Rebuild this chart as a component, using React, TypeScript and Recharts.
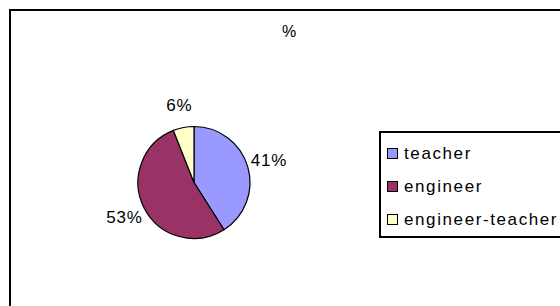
import React from "react";
import { PieChart, Pie, Cell } from "recharts";

const categories = ["teacher", "engineer", "engineer-teacher"];
const values = [41, 53, 6];
const colors = ["#9999FF", "#993366", "#FFFFCC"];
const title = "%";

const data = categories.map((name, i) => ({ name, value: values[i] }));

const FONT = "'Liberation Sans', Arial, sans-serif";
const RAD = Math.PI / 180;

const renderLabel = (props: any) => {
  const { cx, cy, midAngle, outerRadius, value } = props;
  const r = outerRadius + 22;
  const x = cx + r * Math.cos(-midAngle * RAD);
  const y = cy + r * Math.sin(-midAngle * RAD);
  return (
    <text
      x={x}
      y={y}
      textAnchor="middle"
      dominantBaseline="central"
      fill="#000"
      fontFamily={FONT}
      fontSize={17}
      letterSpacing={0.8}
    >
      {`${value}%`}
    </text>
  );
};

function LegendBox() {
  return (
    <div
      style={{
        position: "absolute",
        left: 379,
        top: 131,
        border: "2px solid #000",
        background: "#fff",
        paddingTop: 4,
        width: 260,
        height: 107,
        boxSizing: "border-box",
      }}
    >
      {categories.map((name, i) => (
        <div
          key={name}
          style={{
            height: 33,
            display: "flex",
            alignItems: "center",
            paddingLeft: 6,
            fontFamily: FONT,
            fontSize: 17,
            letterSpacing: 1.6,
            color: "#000",
            whiteSpace: "nowrap",
          }}
        >
          <span
            style={{
              display: "inline-block",
              width: 9,
              height: 9,
              border: "1.5px solid #000",
              background: colors[i],
              marginRight: 6,
              flexShrink: 0,
            }}
          />
          {name}
        </div>
      ))}
    </div>
  );
}

export default function App() {
  return (
    <div
      style={{
        position: "fixed",
        left: 0,
        top: 0,
        width: 560,
        height: 306,
        overflow: "hidden",
        background: "#fff",
      }}
    >
      <div
        style={{
          position: "absolute",
          left: 9,
          top: 9,
          width: 620,
          height: 400,
          border: "2px solid #000",
          boxSizing: "border-box",
        }}
      />
      <div
        style={{
          position: "absolute",
          left: 249,
          width: 80,
          top: 23,
          textAlign: "center",
          fontFamily: FONT,
          fontSize: 16,
          color: "#000",
        }}
      >
        {title}
      </div>
      <div style={{ position: "absolute", left: 0, top: 0 }}>
        <PieChart width={560} height={306} margin={{ top: 0, right: 0, bottom: 0, left: 0 }}>
          <Pie
            data={data}
            dataKey="value"
            nameKey="name"
            cx={194}
            cy={182.5}
            outerRadius={56}
            startAngle={90}
            endAngle={-270}
            stroke="#000"
            strokeWidth={1.2}
            label={renderLabel}
            labelLine={false}
            isAnimationActive={false}
          >
            {data.map((d, i) => (
              <Cell key={d.name} fill={colors[i]} />
            ))}
          </Pie>
        </PieChart>
      </div>
      <LegendBox />
    </div>
  );
}
